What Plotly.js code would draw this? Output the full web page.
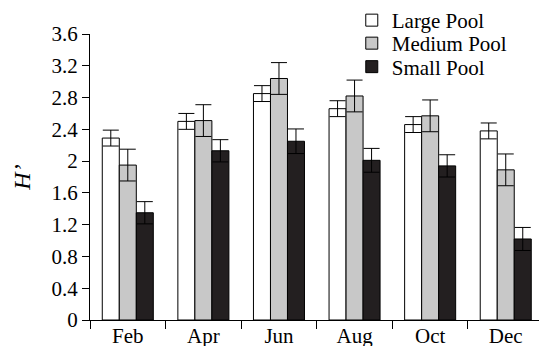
<!DOCTYPE html>
<html>
<head>
<meta charset="utf-8">
<script src="https://cdn.plot.ly/plotly-3.0.1.min.js"></script>
<style>
  html, body { margin: 0; padding: 0; background: #fff; }
  #chart { width: 539px; height: 346px; }
</style>
</head>
<body>
<div id="chart"></div>
<script>
// Sampling months
const months = ['Feb', 'Apr', 'Jun', 'Aug', 'Oct', 'Dec'];

// Shannon diversity H' per pool size, with error margins
const largePool = [2.29, 2.50, 2.85, 2.66, 2.46, 2.38];
const largeErr = [0.10, 0.10, 0.10, 0.10, 0.10, 0.10];
const mediumPool = [1.95, 2.51, 3.04, 2.82, 2.57, 1.89];
const mediumErr = [0.20, 0.20, 0.20, 0.20, 0.20, 0.20];
const smallPool = [1.35, 2.13, 2.25, 2.01, 1.94, 1.02];
const smallErr = [0.14, 0.14, 0.155, 0.15, 0.14, 0.145];

// Y axis ticks
const yTickVals = [0, 0.4, 0.8, 1.2, 1.6, 2, 2.4, 2.8, 3.2, 3.6];
const yTickText = ['0', '0.4', '0.8', '1.2', '1.6', '2', '2.4', '2.8', '3.2', '3.6'];

const serif = '"Liberation Serif", "Times New Roman", serif';

function barTrace(name, values, errs, fill, legendId) {
  return {
    type: 'bar',
    name: name,
    x: months,
    y: values,
    legend: legendId,
    marker: { color: fill, line: { color: '#000', width: 1 } },
    error_y: { type: 'data', array: errs, visible: true, color: '#000', thickness: 1, width: 8 },
    hoverinfo: 'skip'
  };
}

const data = [
  barTrace('Large Pool', largePool, largeErr, '#ffffff', 'legend'),
  barTrace('Medium Pool', mediumPool, mediumErr, '#c8c8c8', 'legend2'),
  barTrace('Small Pool', smallPool, smallErr, '#231f20', 'legend3')
];

// One legend box per series, stacked with a tight line spacing
function legendBox(yPaper) {
  return {
    x: 0.583, y: yPaper, xanchor: 'left', yanchor: 'middle',
    bgcolor: 'rgba(0,0,0,0)',
    font: { family: serif, size: 21, color: '#000' },
    itemclick: false
  };
}
const plotTop = 34, plotH = 346 - 34 - 26;
const rowY = px => 1 + (plotTop - px) / plotH;

const layout = {
  width: 539,
  height: 346,
  margin: { l: 90, r: 0, t: 34, b: 26, pad: 0 },
  paper_bgcolor: '#fff',
  plot_bgcolor: '#fff',
  barmode: 'group',
  bargap: 0.325,
  bargroupgap: 0,
  font: { family: serif, size: 21, color: '#000' },
  showlegend: true,
  legend: legendBox(rowY(20)),
  legend2: legendBox(rowY(43.5)),
  legend3: legendBox(rowY(67)),
  xaxis: {
    type: 'category',
    range: [-0.5, 5.44],
    showline: true, linecolor: '#000', linewidth: 1,
    ticks: 'outside', ticklen: 8, tickwidth: 1, tickcolor: '#000',
    tickson: 'boundaries',
    showgrid: false, zeroline: false,
    tickfont: { family: serif, size: 21, color: '#000' },
    ticklabelstandoff: -3,
    fixedrange: true
  },
  yaxis: {
    range: [0, 3.6],
    tickvals: yTickVals,
    ticktext: yTickText,
    showline: true, linecolor: '#000', linewidth: 1,
    ticks: 'outside', ticklen: 7, tickwidth: 1, tickcolor: '#000',
    showgrid: false, zeroline: false,
    tickfont: { family: serif, size: 21, color: '#000' },
    title: { text: '<i>H’</i>', font: { family: serif, size: 24, color: '#000' }, standoff: 14 },
    fixedrange: true
  }
};

Plotly.newPlot('chart', data, layout, { staticPlot: true, displayModeBar: false });
</script>
</body>
</html>
